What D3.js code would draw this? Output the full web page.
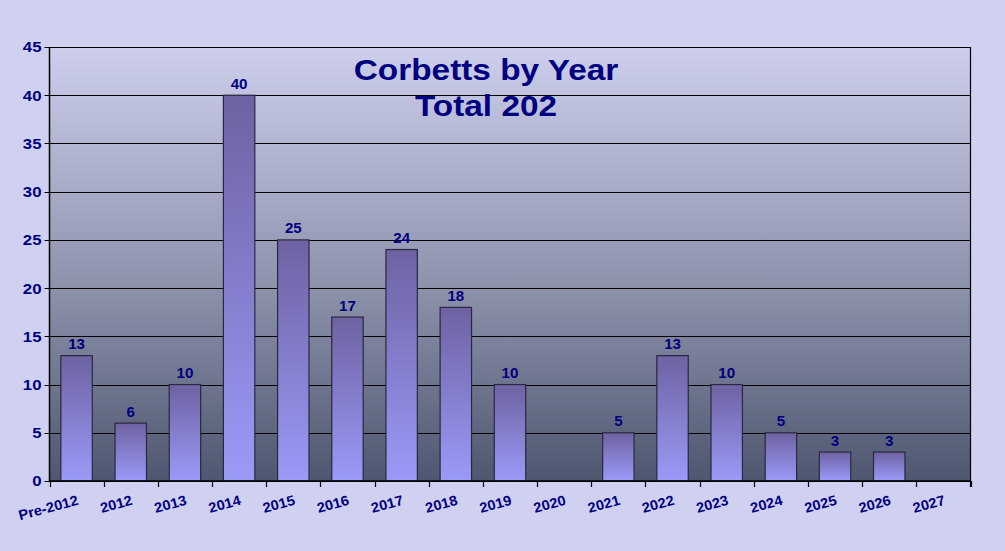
<!DOCTYPE html>
<html><head><meta charset="utf-8">
<script src="https://cdn.jsdelivr.net/npm/d3@7"></script>
<style>html,body{margin:0;padding:0;background:#d0d0f0;} svg{display:block}</style>
</head><body><svg id="c" width="1005" height="551"></svg>
<script>
const categories = ["Pre-2012","2012","2013","2014","2015","2016","2017","2018","2019","2020","2021","2022","2023","2024","2025","2026","2027"];
const values = [13,6,10,40,25,17,24,18,10,null,5,13,10,5,3,3,null];
const yTicks = [0,5,10,15,20,25,30,35,40,45];
const titleLines = ["Corbetts by Year","Total 202"];

const svg = d3.select("#c");
const W = 1005, H = 551;
const L = 49.5, R = 970.5, T = 47, B = 481;
const navy = "#000080";
const font = "'Liberation Sans', Arial, sans-serif";

svg.append("rect").attr("width", W).attr("height", H).attr("fill", "#d0d0f0");

const defs = svg.append("defs");
const pg = defs.append("linearGradient").attr("id","plotG").attr("x1",0).attr("y1",0).attr("x2",0).attr("y2",1);
pg.append("stop").attr("offset","0").attr("stop-color","#cdcfec");
pg.append("stop").attr("offset","0.58").attr("stop-color","#8a8fa8");
pg.append("stop").attr("offset","1").attr("stop-color","#4e576f");
const bg = defs.append("linearGradient").attr("id","barG").attr("x1",0).attr("y1",0).attr("x2",0).attr("y2",1);
bg.append("stop").attr("offset","0").attr("stop-color","#6e62a2");
bg.append("stop").attr("offset","1").attr("stop-color","#9a9af8");

const x = d3.scaleBand().domain(categories).range([L, R]).paddingInner(0.42).paddingOuter(0.21);
const xb = d3.scaleLinear().domain([0, categories.length]).range([L, R]);
const y = d3.scaleLinear().domain([0, 45]).range([B, T]);

svg.append("rect").attr("x", L).attr("y", T).attr("width", R - L).attr("height", B - T).attr("fill", "url(#plotG)");

// gridlines
svg.append("g").selectAll("line").data(yTicks).join("line")
  .attr("x1", L - 5).attr("x2", R)
  .attr("y1", d => Math.round(y(d)) + 0.5).attr("y2", d => Math.round(y(d)) + 0.5)
  .attr("stroke", "#000").attr("stroke-width", 1.2);

// bars
const data = categories.map((c, i) => ({c, v: values[i]})).filter(d => d.v != null);
svg.append("g").selectAll("rect").data(data).join("rect")
  .attr("x", d => x(d.c)).attr("y", d => y(d.v))
  .attr("width", x.bandwidth()).attr("height", d => B - y(d.v))
  .attr("fill", "url(#barG)").attr("stroke", "#2a2840").attr("stroke-width", 1.2);

// axes lines
svg.append("line").attr("x1", L).attr("x2", L).attr("y1", T).attr("y2", B).attr("stroke", "#000").attr("stroke-width", 1.5);
svg.append("line").attr("x1", R).attr("x2", R).attr("y1", T).attr("y2", B + 6).attr("stroke", "#000").attr("stroke-width", 1.2);
svg.append("line").attr("x1", L).attr("x2", R).attr("y1", B).attr("y2", B).attr("stroke", "#000").attr("stroke-width", 1.5);
svg.append("g").selectAll("line").data(d3.range(categories.length + 1)).join("line")
  .attr("x1", d => Math.round(xb(d)) + 0.5).attr("x2", d => Math.round(xb(d)) + 0.5)
  .attr("y1", B).attr("y2", B + 6).attr("stroke", "#000").attr("stroke-width", 1.2);

// y tick labels
svg.append("g").selectAll("text").data(yTicks).join("text")
  .attr("transform", d => `translate(41.5,${y(d)}) scale(1.12,1)`)
  .attr("dy", "0.36em").attr("text-anchor", "end")
  .attr("font-family", font).attr("font-weight", "bold").attr("font-size", 15)
  .attr("fill", navy).text(d => d);

// x tick labels
svg.append("g").selectAll("text").data(categories).join("text")
  .attr("transform", d => `translate(${x(d) + x.bandwidth() / 2 + 2.5},504.5) rotate(-15) scale(1.05,1)`)
  .attr("text-anchor", "end")
  .attr("font-family", font).attr("font-weight", "bold").attr("font-size", 14)
  .attr("fill", navy).text(d => d);

// value labels
svg.append("g").selectAll("text").data(data).join("text")
  .attr("transform", d => `translate(${x(d.c) + x.bandwidth() / 2},${y(d.v) - 6.5}) scale(1.08,1)`)
  .attr("text-anchor", "middle")
  .attr("font-family", font).attr("font-weight", "bold").attr("font-size", 14)
  .attr("fill", navy).text(d => d.v);

// title
svg.append("g").selectAll("text").data(titleLines).join("text")
  .attr("transform", (d, i) => `translate(486,${i === 0 ? 80 : 116}) scale(1.15,1)`)
  .attr("text-anchor", "middle")
  .attr("font-family", font).attr("font-weight", "bold").attr("font-size", 29)
  .attr("fill", navy).text(d => d);
</script>
</body></html>
